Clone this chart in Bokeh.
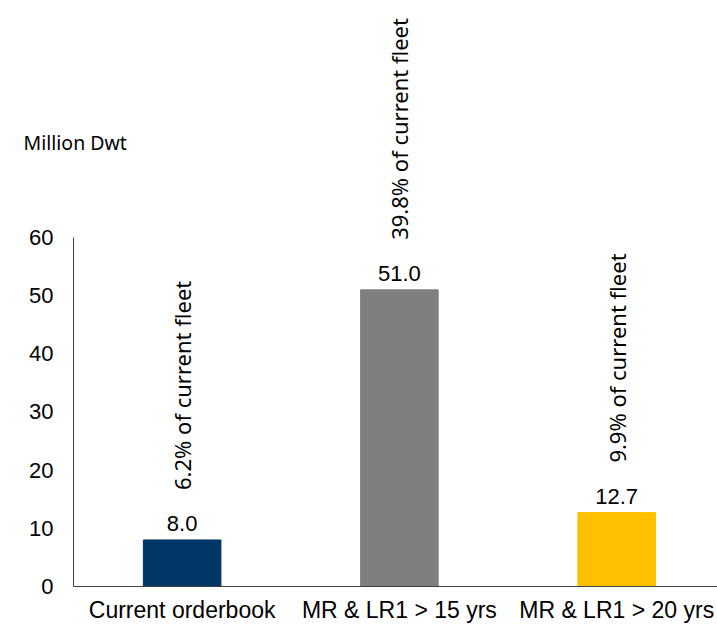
from bokeh.plotting import figure
from bokeh.models import Range1d, FixedTicker, Label, ColumnDataSource
from bokeh.embed import file_html
from bokeh.resources import INLINE
from bokeh.core.properties import value
import math

categories = ["Current orderbook", "MR & LR1 > 15 yrs", "MR & LR1 > 20 yrs"]
values = [8.0, 51.0, 12.7]
shares = ["6.2% of current fleet", "39.8% of current fleet", "9.9% of current fleet"]
colors = ["#003767", "#7F7F7F", "#FFC000"]
y_ticks = [0, 10, 20, 30, 40, 50, 60]

xs = [i + 0.5 for i in range(len(categories))]
src = ColumnDataSource(dict(
    x=xs, top=values, color=colors,
    vlab=[f"{v:.1f}" for v in values],
    share=shares,
))

p = figure(width=717, height=625, output_backend="svg", toolbar_location=None,
           x_range=Range1d(-0.336, 2.964), y_range=Range1d(-6.705, 100.74),
           min_border_left=0, min_border_right=0, min_border_top=0,
           min_border_bottom=0)
p.outline_line_color = None
p.xgrid.visible = False
p.ygrid.visible = False

p.vbar(x="x", top="top", bottom=0, width=0.357, color="color", source=src)

p.text(x="x", y="top", text="vlab", source=src, y_offset=-16,
       text_align="center", text_baseline="alphabetic",
       text_font=value("Liberation Sans"), text_font_size="22px", text_color="#000000")

p.text(x="x", y="top", text="share", source=src, y_offset=-50, angle=math.pi / 2,
       text_align="left", text_baseline="middle",
       text_font=value("Noto Sans"), text_font_size="22px", text_color="#000000")

# axes drawn at fixed data locations inside the frame
p.xaxis.fixed_location = 0
p.xaxis.bounds = (0, 2.964)
p.xaxis.ticker = FixedTicker(ticks=xs)
p.xaxis.major_label_overrides = {x: c for x, c in zip(xs, categories)}
p.xaxis.major_tick_line_color = None
p.xaxis.major_tick_out = 0
p.xaxis.major_tick_in = 0
p.xaxis.minor_tick_line_color = None
p.xaxis.axis_line_color = "#404040"
p.xaxis.major_label_text_font = "Liberation Sans"
p.xaxis.major_label_text_font_size = "23px"
p.xaxis.major_label_text_color = "#000000"
p.xaxis.major_label_standoff = 11

p.yaxis.fixed_location = 0
p.yaxis.ticker = FixedTicker(ticks=y_ticks)
p.yaxis.bounds = (0, 60)
p.yaxis.major_tick_line_color = None
p.yaxis.major_tick_out = 0
p.yaxis.major_tick_in = 0
p.yaxis.minor_tick_line_color = None
p.yaxis.axis_line_color = "#404040"
p.yaxis.major_label_text_font = "Liberation Sans"
p.yaxis.major_label_text_font_size = "22px"
p.yaxis.major_label_text_color = "#000000"
p.yaxis.major_label_standoff = 20

p.add_layout(Label(x=-0.23, y=76.3, text="Million Dwt", text_font="Noto Sans",
                   text_font_size="19.5px", text_color="#000000",
                   text_baseline="alphabetic", text_align="left"))

open("out.html", "w").write(file_html(p, INLINE))
